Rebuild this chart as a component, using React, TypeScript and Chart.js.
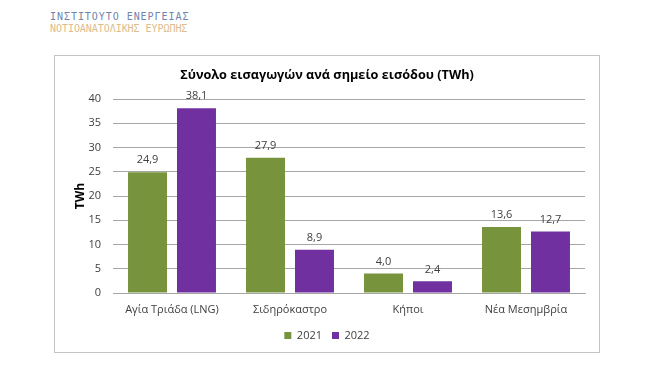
import React, { useEffect, useRef } from "react";
import { Chart, registerables } from "chart.js";

Chart.register(...registerables);

const categories = ["Αγία Τριάδα (LNG)", "Σιδηρόκαστρο", "Κήποι", "Νέα Μεσημβρία"];
const values2021 = [24.9, 27.9, 4.0, 13.6];
const values2022 = [38.1, 8.9, 2.4, 12.7];
const seriesLabels = ["2021", "2022"];
const yTicks = [0, 5, 10, 15, 20, 25, 30, 35, 40];

const FONT = "'Open Sans', 'DejaVu Sans', sans-serif";

const dataLabelPlugin = {
  id: "dataLabels",
  afterDatasetsDraw(chart: any) {
    const ctx = chart.ctx;
    ctx.save();
    ctx.font = `11px ${FONT}`;
    ctx.fillStyle = "#404040";
    ctx.textAlign = "center";
    ctx.textBaseline = "middle";
    chart.data.datasets.forEach((ds: any, i: number) => {
      const meta = chart.getDatasetMeta(i);
      meta.data.forEach((bar: any, j: number) => {
        const v = ds.data[j] as number;
        ctx.fillText(v.toFixed(1).replace(".", ","), bar.x, bar.y - 12);
      });
    });
    ctx.restore();
  },
};

export default function App() {
  const ref = useRef<HTMLCanvasElement>(null);
  useEffect(() => {
    document.body.style.margin = "0";
    const chart = new Chart(ref.current!, {
      type: "bar",
      data: {
        labels: categories,
        datasets: [
          { label: seriesLabels[0], data: values2021, backgroundColor: "#77933C", yAxisID: "y" },
          { label: seriesLabels[1], data: values2022, backgroundColor: "#7030A0", yAxisID: "y" },
        ],
      },
      options: {
        animation: false,
        responsive: false,
        maintainAspectRatio: false,
        layout: { padding: { left: 0, right: 0, top: 0, bottom: 1 } },
        datasets: { bar: { categoryPercentage: 0.83, barPercentage: 0.796 } },
        plugins: {
          title: {
            display: true,
            text: "Σύνολο εισαγωγών ανά σημείο εισόδου (TWh)",
            color: "#000",
            font: { family: FONT, size: 12.7, weight: "bold" },
            padding: { top: 11.4, bottom: 16.4 },
          },
          legend: {
            position: "bottom",
            labels: {
              boxWidth: 7,
              boxHeight: 7,
              padding: 10,
              color: "#404040",
              font: { family: FONT, size: 11 },
            },
          },
          tooltip: { enabled: false },
        },
        scales: {
          x: {
            grid: { display: false, drawTicks: false },
            border: { color: "#a6a6a6" },
            ticks: { color: "#404040", font: { family: FONT, size: 11 }, padding: 10 },
            afterFit(scale: any) {
              scale.height = 27;
            },
          },
          y: {
            min: 0,
            max: 40,
            afterBuildTicks(scale: any) {
              scale.ticks = yTicks.map((v) => ({ value: v }));
            },
            grid: { color: "#a6a6a6", drawTicks: false },
            border: { display: false },
            ticks: { color: "#404040", font: { family: FONT, size: 11 }, padding: 12 },
            title: {
              display: true,
              text: "TWh",
              color: "#000",
              font: { family: FONT, size: 12, weight: "bold" },
              padding: { top: 18, bottom: 0 },
            },
            afterFit(scale: any) {
              scale.width = 58;
            },
          },
          yRight: {
            position: "right",
            display: true,
            min: 0,
            max: 1,
            grid: { display: false, drawTicks: false },
            border: { display: false },
            ticks: { display: false },
            afterFit(scale: any) {
              scale.width = 14;
            },
          },
        },
      },
      plugins: [dataLabelPlugin],
    });
    return () => chart.destroy();
  }, []);

  return (
    <div style={{ position: "relative", width: 666, height: 375, background: "#fff", overflow: "hidden" }}>
      <div
        style={{
          position: "absolute",
          left: 50,
          top: 11,
          fontFamily: "'DejaVu Sans Mono', monospace",
          fontSize: 10,
          lineHeight: "12px",
          whiteSpace: "nowrap",
        }}
      >
        <div style={{ color: "#7084ad", letterSpacing: "0.95px" }}>ΙΝΣΤΙΤΟΥΤΟ ΕΝΕΡΓΕΙΑΣ</div>
        <div style={{ color: "#dcbd8e", letterSpacing: "-0.05px" }}>ΝΟΤΙΟΑΝΑΤΟΛΙΚΗΣ ΕΥΡΩΠΗΣ</div>
      </div>
      <div
        style={{
          position: "absolute",
          left: 54,
          top: 55,
          width: 544,
          height: 296,
          border: "1px solid #c4c4c4",
        }}
      >
        <canvas ref={ref} width={544} height={296} style={{ display: "block" }} />
      </div>
    </div>
  );
}
